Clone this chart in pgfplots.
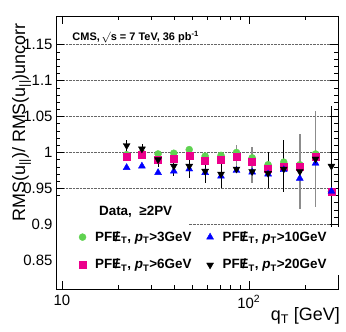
\documentclass[border=0pt]{standalone}
\usepackage{fontspec}
\setmainfont{Liberation Sans}
\usepackage{pgfplots}
\pgfplotsset{compat=1.18}

\definecolor{ptgreen}{RGB}{95,210,80}
\newcommand{\metslash}{PF{\ooalign{E\cr\hidewidth/\hidewidth}}\textsubscript{T}}

\begin{document}
\begin{tikzpicture}
\begin{axis}[
    scale only axis,
    width=282bp, height=273bp,
    xmode=log,
    xmin=9.3, xmax=300,
    ymin=0.81, ymax=1.19,
    xtick={10,100},
    xticklabels={10,10\textsuperscript{2}},
    minor xtick={20,30,40,50,60,70,80,90,200,300},
    ytick={0.85,0.9,0.95,1,1.05,1.1,1.15},
    minor y tick num=4,
    ymajorgrids,
    grid style={densely dotted, black!60, line width=0.6bp},
    tick align=inside,
    major tick length=8bp, minor tick length=4bp,
    axis line style={line width=0.8bp},
    every tick/.style={black, line width=0.6bp},
    /pgf/number format/assume math mode=true,
    tick label style={font=\fontsize{15}{15}\selectfont},
    xticklabel style={yshift=-3bp},
    xlabel={q\textsubscript{T} [GeV]},
    ylabel={RMS(u\textsubscript{||})/ RMS(u\textsubscript{||})uncorr},
    xlabel style={font=\fontsize{18}{18}\selectfont, at={(axis description cs:1.007,-0.117)}, anchor=base east, inner sep=0pt},
    ylabel style={font=\fontsize{18}{18}\selectfont, at={(axis description cs:-0.156,0.974)}, anchor=north east, inner sep=0pt},
    legend columns=2,
    transpose legend,
    legend cell align=left,
    legend style={at={(axis description cs:0.003,0.229)}, anchor=north west,
        draw=none, fill=white, inner xsep=22bp, inner ysep=3bp,
        font=\bfseries\fontsize{13.5}{15}\selectfont, row sep=13bp,
        /tikz/every odd column/.append style={column sep=7bp},
        /tikz/every even column/.append style={column sep=13bp}},
]

% grey error bars
\addplot[only marks, mark=none, forget plot,
    error bars/.cd, y dir=both, y explicit, error mark=none,
    error bar style={line width=1.5bp, black!45}]
coordinates {
    (85.9,0.977) += (0,0.033) -= (0,0.004)
    (104.2,0.9736) += (0,0.034) -= (0,0.016)
    (187.4,0.9736) += (0,0.052) -= (0,0.052)
    (227.5,0.991) += (0,0.067) -= (0,0.067)
};

% pT > 3 GeV
\addplot[only marks, mark=*, mark size=3.5bp, color=ptgreen] coordinates {
    (22.2,0.997) (26.8,0.999) (32.7,0.998) (39.7,0.999) (48.0,1.004)
    (58.4,0.995) (71.0,0.996) (85.9,1.000) (104.2,0.9926) (126.8,0.983)
    (153.8,0.9866) (187.4,0.983) (227.5,0.998) (276.7,0.946)
};
\addlegendentry{\metslash, \textit{p}\textsubscript{T}>3GeV}

% pT > 6 GeV
\addplot[only marks, mark=square*, mark size=3.5bp, color=magenta] coordinates {
    (22.2,0.994) (26.8,0.997) (32.7,0.990) (39.7,0.991) (48.0,0.996)
    (58.4,0.988) (71.0,0.990) (85.9,0.9935) (104.2,0.9875) (126.8,0.977)
    (153.8,0.9796) (187.4,0.9796) (227.5,0.9935) (276.7,0.945)
};
\addlegendentry{\metslash, \textit{p}\textsubscript{T}>6GeV}

% pT > 10 GeV
\addplot[only marks, mark=triangle*, mark size=4bp, color=blue] coordinates {
    (22.2,0.979) (26.8,0.981) (32.7,0.972) (39.7,0.974) (48.0,0.977)
    (58.4,0.972) (71.0,0.967) (85.9,0.975) (104.2,0.9727) (126.8,0.970)
    (153.8,0.976) (187.4,0.964) (227.5,0.985) (276.7,0.946)
};
\addlegendentry{\metslash, \textit{p}\textsubscript{T}>10GeV}

% pT > 20 GeV
\addplot[only marks, mark=triangle*, mark size=4bp, mark options={rotate=180}, color=black,
    error bars/.cd, y dir=both, y explicit, error mark=none,
    error bar style={line width=0.8bp, black}]
coordinates {
    (22.2,1.0097) +- (0,0.008)
    (26.8,1.005) +- (0,0.007)
    (32.7,0.990) +- (0,0.010)
    (39.7,0.981) +- (0,0.014)
    (48.0,0.981) +- (0,0.016)
    (58.4,0.974) +- (0,0.016)
    (71.0,0.970) +- (0,0.020)
    (85.9,0.977) +- (0,0.004)
    (104.2,0.9736) +- (0,0.004)
    (126.8,0.971) += (0,0.029) -= (0,0.021)
    (153.8,0.977) += (0,0.040) -= (0,0.032)
    (187.4,0.9736) +- (0,0.004)
    (227.5,0.991) +- (0,0.004)
    (276.7,0.981) += (0,0.084) -= (0,0.120)
};
\addlegendentry{\metslash, \textit{p}\textsubscript{T}>20GeV}

\node[anchor=base west, font=\bfseries\fontsize{11}{11}\selectfont]
    at (axis description cs:0.046,0.912) {CMS,\,$\surd$s = 7 TeV, 36 pb\textsuperscript{-1}};
\fill[white] (axis description cs:0.003,0.236) rectangle (axis description cs:0.47,0.33);
\node[anchor=west, inner sep=0pt, font=\bfseries\fontsize{13.5}{15}\selectfont]
    at (axis description cs:0.152,0.282) {Data,\ \ ≥2PV};
\end{axis}
\pgfresetboundingbox
\path[use as bounding box] (-56bp,-43bp) rectangle (290bp,289bp);
\end{tikzpicture}
\end{document}
